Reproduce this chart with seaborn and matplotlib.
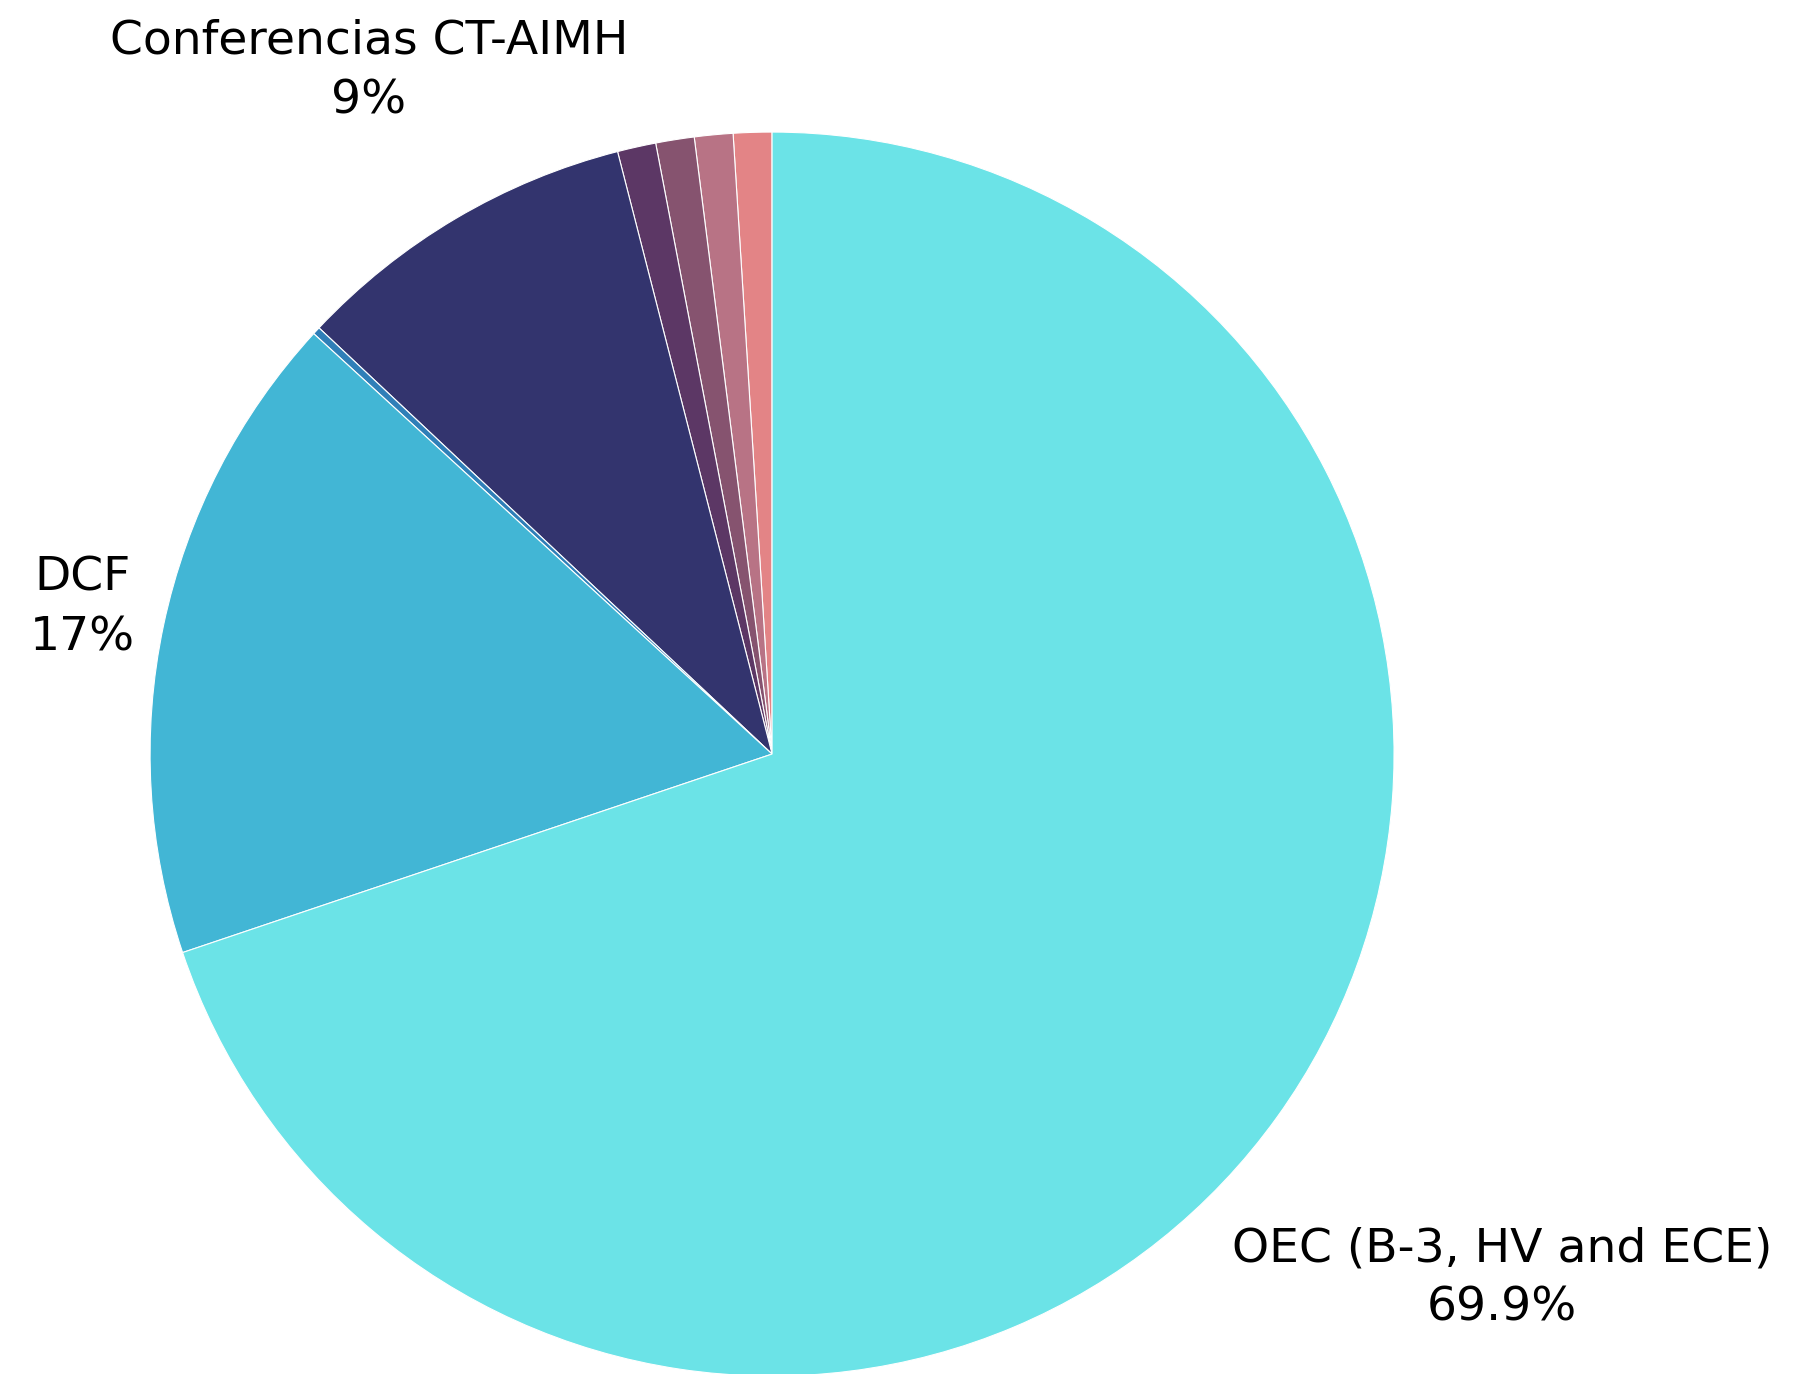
"""Pie chart of event share by programme."""

import numpy as np
import matplotlib.pyplot as plt
import seaborn as sns

sns.set_theme(style="white")
plt.rcParams["font.family"] = ["DejaVu Sans"]

# slices, counter-clockwise from 12 o'clock
categories = ["", "", "", "", "Conferencias CT-AIMH", "", "DCF", "OEC (B-3, HV and ECE)"]
values = [1.0, 1.0, 1.0, 1.0, 9.0, 0.2, 17.0, 69.9]
pct_labels = ["", "", "", "", "9%", "", "17%", "69.9%"]
colors = ["#E38486", "#B87385", "#86536F", "#5C3765", "#33346E", "#2F7FB8", "#42B6D5", "#6BE3E7"]
label_dist = [0, 0, 0, 0, 1.275, 0, 1.133, 1.445]

fig = plt.figure(figsize=(18.06, 13.74), dpi=100)
ax = fig.add_axes([0.0831, -0.0015, 0.6888, 0.9054])

wedges, _ = ax.pie(
    values,
    colors=colors,
    startangle=90,
    counterclock=True,
    wedgeprops=dict(edgecolor="white", linewidth=0.8),
)
ax.set_xlim(-1, 1)
ax.set_ylim(-1, 1)
ax.set_aspect("equal")

for w, name, pct, d in zip(wedges, categories, pct_labels, label_dist):
    if not name:
        continue
    mid = np.deg2rad((w.theta1 + w.theta2) / 2)
    ax.text(d * np.cos(mid), d * np.sin(mid), f"{name}\n{pct}",
            ha="center", va="center", fontsize=34, linespacing=1.42,
            color="black", clip_on=False)

fig.savefig("out.png", dpi=100)
